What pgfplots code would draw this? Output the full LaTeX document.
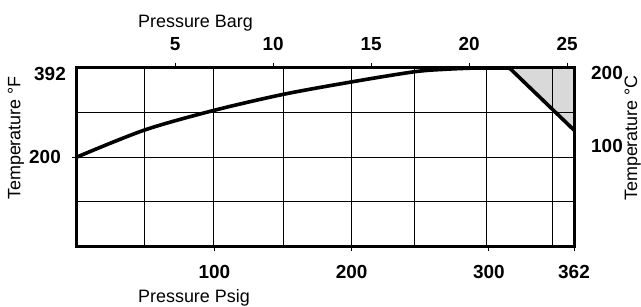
\documentclass[border=0pt]{standalone}
\usepackage{pgfplots}
\pgfplotsset{compat=1.18}
\usepackage{fontspec}
\setmainfont{Liberation Sans}
\begin{document}
\begin{tikzpicture}
\begin{axis}[
  name=main,
  at={(0,0)}, anchor=south west,
  scale only axis, width=497bp, height=178bp,
  xmin=0, xmax=362, ymin=8, ymax=392,
  axis on top,
  axis line style={line width=3bp},
  xtick={100,200,300,362},
  minor xtick={49,99,150,200,246,298,346},
  ytick={200},
  minor ytick={104,296},
  extra y ticks={392},
  extra y tick style={major tick length=0pt, grid=none, yticklabel style={yshift=-6.3bp}},
  xmajorgrids=false, xminorgrids=true, ymajorgrids=true, yminorgrids=true,
  major grid style={black, line width=0.8bp},
  minor grid style={black, line width=0.8bp},
  minor tick length=0pt,
  major tick length=5bp,
  tick align=outside,
  tick pos=left,
  tick style={black, line width=0.8bp},
  /pgf/number format/assume math mode=true,
  tick label style={font=\fontsize{19}{19}\selectfont\bfseries, inner sep=0pt},
  xticklabel style={anchor=base, yshift=-27.5bp},
  yticklabel style={anchor=east, xshift=-11bp},
  xlabel={Pressure Psig},
  xlabel style={at={(axis description cs:0.2354,-0.3202)}, anchor=base, font=\fontsize{18}{18}\selectfont},
  ylabel={Temperature °F},
  ylabel style={at={(axis description cs:-0.1139,0.607)}, anchor=base, font=\fontsize{18}{18}\selectfont},
]
\addplot[fill=gray!30, draw=none] coordinates {(315,392) (362,392) (362,258) (315,392)};
\addplot[line width=3.6bp, smooth] coordinates {
(0,200) (49,258) (99,300) (150,335) (200,362) (246,384) (270,389.5) (290,392)};
\addplot[line width=3.6bp] coordinates {(290,392) (315,392) (362,258)};
\end{axis}
\begin{axis}[
  at={(0,0)}, anchor=south west,
  scale only axis, width=497bp, height=178bp,
  xmin=0, xmax=25.35, ymin=-28, ymax=200,
  axis x line*=top, axis y line*=right,
  axis line style={draw=none},
  xtick={5,10,15,20,25},
  ytick={100},
  extra y ticks={200},
  extra y tick style={yticklabel style={yshift=-5bp}},
  ytick style={draw=none},
  major tick length=5bp,
  tick align=outside,
  xtick style={black, line width=0.8bp},
  /pgf/number format/assume math mode=true,
  tick label style={font=\fontsize{19}{19}\selectfont\bfseries, inner sep=0pt},
  xticklabel style={anchor=base, yshift=12bp},
  yticklabel style={anchor=west, xshift=12bp},
  xlabel={Pressure Barg},
  xlabel style={at={(axis description cs:0.2384,1.23)}, anchor=base, font=\fontsize{18}{18}\selectfont},
  ylabel={Temperature °C},
  ylabel style={at={(axis description cs:1.1268,0.607)}, anchor=base, font=\fontsize{18}{18}\selectfont},
]
\addplot[draw=none, forget plot] coordinates {(0,0)};
\end{axis}
\pgfresetboundingbox
\path[use as bounding box] (-77bp,-61bp) rectangle (564bp,246bp);
\end{tikzpicture}
\end{document}
